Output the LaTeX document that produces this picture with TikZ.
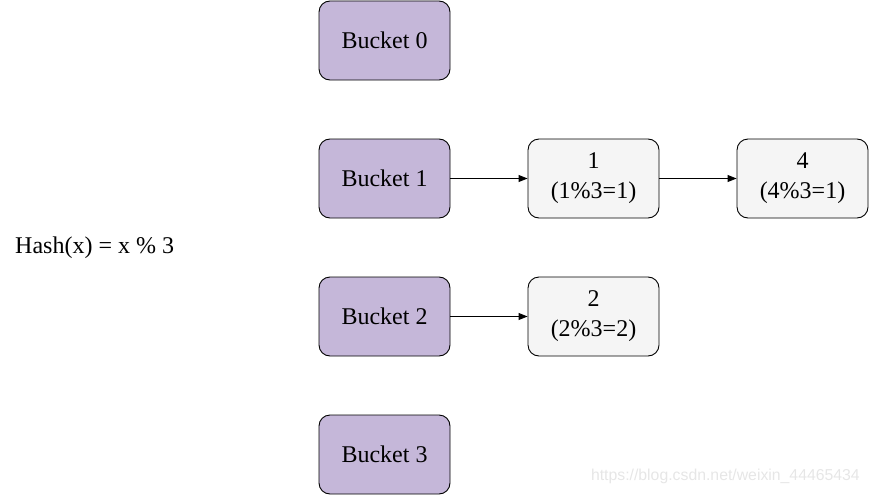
\documentclass[tikz,border=0pt]{standalone}
\usepackage{fontspec}
\setmainfont{Liberation Serif}
\newfontfamily\wmfont{Liberation Sans}
\usetikzlibrary{arrows.meta}
\definecolor{bucketfill}{HTML}{C5B7D9}
\definecolor{valfill}{HTML}{F5F5F5}
\definecolor{wmgray}{HTML}{E6E6E6}
\tikzset{
  box/.style={draw=black, line width=0.9pt, rounded corners=11pt, minimum width=131pt, minimum height=79pt, inner sep=0pt, font=\fontsize{24}{30}\selectfont, align=center},
  bucket/.style={box, fill=bucketfill},
  val/.style={box, fill=valfill},
  link/.style={line width=0.9pt, -{Triangle[length=9pt,width=7pt]}},
}
\begin{document}
\begin{tikzpicture}[x=1pt,y=-1pt]
\useasboundingbox (0,0) rectangle (869,495);
\node[bucket] (b0) at (384.5,40.5) {Bucket 0};
\node[bucket] (b1) at (384.5,178.5) {Bucket 1};
\node[bucket] (b2) at (384.5,316.5) {Bucket 2};
\node[bucket] (b3) at (384.5,454.5) {Bucket 3};
\node[val] (v1) at (593.5,178.5) {1\\(1\%3=1)};
\node[val] (v4) at (802.5,178.5) {4\\(4\%3=1)};
\node[val] (v2) at (593.5,316.5) {2\\(2\%3=2)};
\draw[link] (b1) -- (v1);
\draw[link] (v1) -- (v4);
\draw[link] (b2) -- (v2);
\node[anchor=west, inner sep=0pt, font=\fontsize{24}{28}\selectfont] (hash) at (15,248) {Hash(x) = x \% 3};
\node[anchor=east, inner sep=0pt, text=wmgray, font=\wmfont\fontsize{15.8}{18}\selectfont] (wm) at (860,476) {https://blog.csdn.net/weixin\_44465434};
\end{tikzpicture}
\end{document}
